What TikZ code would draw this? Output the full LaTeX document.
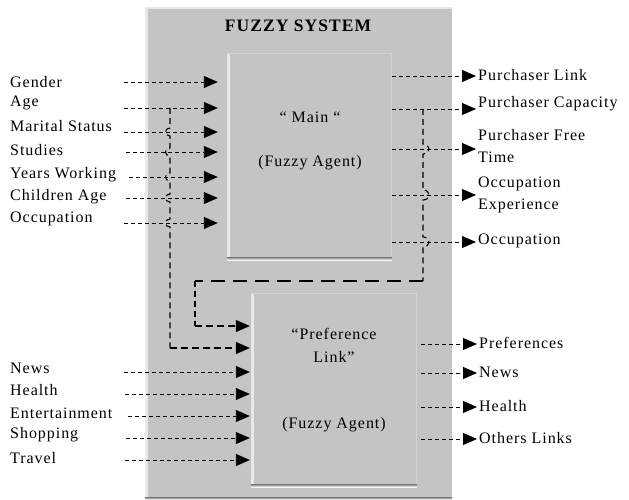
\documentclass[tikz,border=0pt]{standalone}
\usepackage{fontspec}
\setmainfont{Liberation Serif}
\newfontfamily\labfont[LetterSpace=6]{Liberation Serif}
\usetikzlibrary{arrows.meta}
\definecolor{panel}{RGB}{196,196,196}
\definecolor{hilite}{RGB}{232,232,232}
\definecolor{shade}{RGB}{150,150,150}
\definecolor{edge}{RGB}{212,212,212}
\tikzset{
  boxpanel/.style={fill=panel, inner sep=0pt, draw=none},
  lab/.style={font=\labfont\fontsize{16}{22}\selectfont, inner sep=0pt, anchor=west, align=left},
  ctext/.style={font=\labfont\fontsize{16}{23}\selectfont, inner sep=0pt, align=center},
  arr/.style={line width=0.9pt, dash pattern=on 4pt off 3pt, -{Triangle[length=14pt,width=12pt]}},
  fb/.style={line width=1.1pt, dash pattern=on 6pt off 4pt},
  fbarr/.style={line width=1.1pt, dash pattern=on 7pt off 4pt, -{Triangle[length=14pt,width=12pt]}},
  longdash/.style={line width=2pt, dash pattern=on 14pt off 8pt}
}
\begin{document}
\begin{tikzpicture}[x=1pt,y=-1pt]
\useasboundingbox (0,0) rectangle (629,500);

% outer system panel
\node[boxpanel, minimum width=307pt, minimum height=490pt] (sys) at (298.5,252) {};
\fill[hilite] (sys.north west) rectangle ([xshift=3pt]sys.south west);
\fill[hilite] (sys.north west) rectangle ([yshift=-2pt]sys.north east);
\fill[shade] (sys.south west) rectangle ([yshift=-2.5pt]sys.south east);
\node[font=\labfont\bfseries\fontsize{17.5}{19}\selectfont, inner sep=0pt] (title) at (298,26) {FUZZY SYSTEM};

% main agent
\node[boxpanel, minimum width=165pt, minimum height=207pt] (main) at (309.5,156.5) {};
\fill[hilite] (main.north west) rectangle ([xshift=3pt]main.south west);
\fill[edge] (main.north west) rectangle ([yshift=-1.5pt]main.north east);
\fill[edge] ([xshift=-1.5pt]main.north east) rectangle (main.south east);
\fill[shade] ([yshift=3pt]main.south west) rectangle (main.south east);
\node[ctext] (mainq) at (310,117) {“ Main “};
\node[ctext] (mainf) at (310,163) {(Fuzzy Agent)};

% preference agent
\node[boxpanel, minimum width=166pt, minimum height=194pt] (pref) at (334,390) {};
\fill[hilite] (pref.north west) rectangle ([xshift=3pt]pref.south west);
\fill[edge] (pref.north west) rectangle ([yshift=-1.5pt]pref.north east);
\fill[edge] ([xshift=-1.5pt]pref.north east) rectangle (pref.south east);
\fill[shade] ([yshift=3pt]pref.south west) rectangle (pref.south east);
\node[ctext] (prefq) at (334,345) {“Preference\\Link”};
\node[ctext] (preff) at (334,425) {(Fuzzy Agent)};

% left inputs of main
\node[lab] (lGender) at (10,82) {Gender};
\node[lab] (lAge) at (10,103) {Age};
\node[lab] (lMarital) at (10,126) {Marital Status};
\node[lab] (lStudies) at (10,150) {Studies};
\node[lab] (lYears) at (10,175) {Years Working};
\node[lab] (lChildren) at (10,197) {Children Age};
\node[lab] (lOcc) at (10,219) {Occupation};
\coordinate (iGender) at (124,82);
\coordinate (iAge) at (124,108);
\coordinate (iMarital) at (124,132);
\coordinate (iStudies) at (126,152);
\coordinate (iYears) at (129,177);
\coordinate (iChildren) at (126,198);
\coordinate (iOcc) at (124,223);
\foreach \c in {iGender,iAge,iMarital,iStudies,iYears,iChildren,iOcc}
  \draw[arr] (\c) -- ([xshift=-9pt]main.west |- \c);

% left inputs of preference
\node[lab] (lNews) at (10,368) {News};
\node[lab] (lHealth) at (10,390) {Health};
\node[lab] (lEnt) at (10,413) {Entertainment};
\node[lab] (lShop) at (10,435) {Shopping};
\node[lab] (lTravel) at (10,458) {Travel};
\coordinate (iNews) at (124,372);
\coordinate (iHealth) at (125,394);
\coordinate (iEnt) at (128,416);
\coordinate (iShop) at (126,438);
\coordinate (iTravel) at (125,460);
\foreach \c in {iNews,iHealth,iEnt,iShop,iTravel}
  \draw[arr] (\c) -- ([xshift=-1pt]pref.west |- \c);

% right outputs of main
\coordinate (oLink) at (476,76);
\coordinate (oCap) at (476,109);
\coordinate (oFree) at (476,149);
\coordinate (oExp) at (476,195);
\coordinate (oOcc) at (476,242);
\foreach \c in {oLink,oCap,oFree,oExp,oOcc}
  \draw[arr] (main.east |- \c) -- (\c);
\node[lab] (rLink) at (478,75) {Purchaser Link};
\node[lab] (rCap) at (478,104) {Purchaser Capacity};
\node[lab] (rFree) at (478,146) {Purchaser Free\\Time};
\node[lab] (rExp) at (478,195) {Occupation\\Experience};
\node[lab] (rOcc) at (478,241) {Occupation};

% right outputs of preference
\coordinate (pPref) at (477,344);
\coordinate (pNews) at (477,373);
\coordinate (pHealth) at (477,407);
\coordinate (pOther) at (477,439);
\foreach \c in {pPref,pNews,pHealth,pOther}
  \draw[arr] ([xshift=4pt]pref.east |- \c) -- (\c);
\node[lab] (sPref) at (479,343) {Preferences};
\node[lab] (sNews) at (479,372) {News};
\node[lab] (sHealth) at (479,406) {Health};
\node[lab] (sOther) at (479,438) {Others Links};

% feedback from Age into the preference agent (with hops)
\draw[fb] (170,108) -- (170,128) .. controls (164,128) and (164,136) .. (170,136)
  -- (170,148) .. controls (164,148) and (164,156) .. (170,156)
  -- (170,173) .. controls (164,173) and (164,181) .. (170,181)
  -- (170,194) .. controls (164,194) and (164,202) .. (170,202)
  -- (170,219) .. controls (164,219) and (164,227) .. (170,227)
  -- (170,348);
\coordinate (fbA) at (170,348);
\draw[fbarr] (fbA) -- ([xshift=-1pt]pref.west |- fbA);

% feedback from main outputs into the preference agent (with hops)
\draw[fb] (423,109) -- (423,144) .. controls (431,144) and (431,154) .. (423,154)
  -- (423,190) .. controls (431,190) and (431,200) .. (423,200)
  -- (423,237) .. controls (431,237) and (431,247) .. (423,247)
  -- (423,281);
\coordinate (fbR) at (423,281);
\coordinate (fbL) at (195,281);
\coordinate (fbB) at (195,326);
\draw[longdash] (fbR) -- (fbL);
\draw[fb] (fbL) -- (fbB);
\draw[fbarr] (fbB) -- ([xshift=-1pt]pref.west |- fbB);
\end{tikzpicture}
\end{document}
